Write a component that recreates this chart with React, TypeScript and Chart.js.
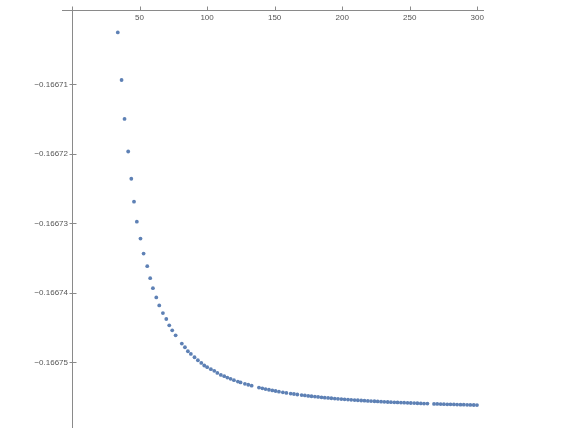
import React, { useEffect, useRef } from "react";
import { Chart, registerables } from "chart.js";
Chart.register(...registerables);

const xValues = [
  33.9, 36.7, 38.9, 41.6, 43.9, 45.9, 48.0, 50.7, 53.0, 55.7, 57.9, 59.9, 62.4, 64.6, 67.3, 69.8, 72.0, 74.2, 76.7,
  81.3, 83.6, 85.8, 88.0, 90.7, 93.2, 95.7, 97.9, 100.1, 102.8, 105.3, 107.6, 110.2, 112.7, 115.0, 117.4, 119.9,
  122.8, 124.8, 128.0, 130.5, 133.0, 138.4, 140.9, 143.3, 145.8, 148.3, 150.7, 153.2, 156.1, 158.7, 161.9, 164.3,
  166.8, 170.0, 172.4, 174.9, 177.3, 179.8, 182.2, 184.7, 187.1, 189.6, 192.0, 194.5, 196.9, 199.4, 201.8, 204.3,
  206.7, 209.2, 211.6, 214.1, 216.5, 219.0, 221.4, 223.9, 226.3, 228.8, 231.2, 233.7, 236.1, 238.6, 241.0, 243.5,
  245.9, 248.4, 250.8, 253.3, 255.7, 258.2, 260.6, 263.1, 268.0, 270.4, 272.9, 275.3, 277.8, 280.2, 282.7, 285.1,
  287.6, 290.0, 292.5, 294.9, 297.4, 299.8,
];

const yValues = [
  -0.16670254, -0.16670938, -0.16671498, -0.16671967, -0.16672359, -0.16672689, -0.16672976, -0.1667322,
  -0.16673435, -0.16673617, -0.16673789, -0.16673933, -0.16674066, -0.16674181, -0.16674291, -0.16674377,
  -0.16674468, -0.16674539, -0.16674611, -0.1667473, -0.16674783, -0.16674841, -0.16674879, -0.16674927,
  -0.1667497, -0.16675009, -0.16675046, -0.1667507, -0.16675099, -0.16675123, -0.16675152, -0.16675181,
  -0.16675199, -0.16675219, -0.16675238, -0.16675257, -0.16675277, -0.16675289, -0.16675309, -0.16675323,
  -0.16675336, -0.16675363, -0.16675374, -0.16675385, -0.16675395, -0.16675404, -0.16675413, -0.16675422,
  -0.16675431, -0.1667544, -0.16675449, -0.16675456, -0.16675463, -0.16675471, -0.16675477, -0.16675483,
  -0.16675488, -0.16675493, -0.16675498, -0.16675503, -0.16675508, -0.16675512, -0.16675517, -0.16675521,
  -0.16675525, -0.16675529, -0.16675532, -0.16675536, -0.16675539, -0.16675543, -0.16675546, -0.16675549,
  -0.16675552, -0.16675555, -0.16675558, -0.1667556, -0.16675563, -0.16675566, -0.16675568, -0.16675571,
  -0.16675573, -0.16675575, -0.16675577, -0.16675579, -0.16675581, -0.16675583, -0.16675585, -0.16675587,
  -0.16675589, -0.16675591, -0.16675593, -0.16675594, -0.16675598, -0.16675599, -0.16675601, -0.16675602,
  -0.16675604, -0.16675605, -0.16675606, -0.16675608, -0.16675609, -0.1667561, -0.16675611, -0.16675613,
  -0.16675614, -0.16675615,
];

const xTickLabels = [50, 100, 150, 200, 250, 300];
const yTickLabels = [-0.16671, -0.16672, -0.16673, -0.16674, -0.16675];

const X_MIN = 0;
const X_MAX = 305;
const Y_MIN = -0.16675945;
const Y_MAX = -0.16669938;

const AXIS_COLOR = "#8a8a8a";
const LABEL_COLOR = "#555555";
const POINT_COLOR = "#5e81b5";
const FONT = { family: "'Liberation Sans', Arial, sans-serif", size: 8 };

const isYMajor = (v: number) => yTickLabels.some((t) => Math.abs(t - v) < 1e-10);
const isYMajorAny = (v: number) => Math.round(v * 1e6) % 10 === 0;

const axesPlugin = {
  id: "mathematicaAxes",
  afterDraw(chart: any) {
    const { ctx, chartArea } = chart;
    const xs = chart.scales.x;
    const ys = chart.scales.y;
    const axisY = Math.floor(chartArea.top) + 0.5;
    const axisX = Math.round(chartArea.left) + 0.5;
    ctx.save();
    ctx.strokeStyle = AXIS_COLOR;
    ctx.lineWidth = 1;
    ctx.beginPath();
    ctx.moveTo(chartArea.left - 10, axisY);
    ctx.lineTo(chartArea.right, axisY);
    ctx.moveTo(axisX, chartArea.top - 4);
    ctx.lineTo(axisX, chartArea.bottom);
    ctx.stroke();
    ctx.beginPath();
    xs.ticks.forEach((t: any) => {
      if (t.value === 0) return;
      const px = Math.round(xs.getPixelForValue(t.value)) + 0.5;
      const len = t.value % 50 === 0 ? 4 : 2.5;
      ctx.moveTo(px, axisY);
      ctx.lineTo(px, axisY - len);
    });
    ys.ticks.forEach((t: any) => {
      const py = Math.round(ys.getPixelForValue(t.value)) + 0.5;
      if (py < chartArea.top + 2) return;
      if (isYMajorAny(t.value)) {
        ctx.moveTo(axisX - 3, py);
        ctx.lineTo(axisX + 4, py);
      } else {
        ctx.moveTo(axisX, py);
        ctx.lineTo(axisX + 2.5, py);
      }
    });
    ctx.stroke();
    ctx.restore();
  },
};

export default function App() {
  const canvasRef = useRef<HTMLCanvasElement | null>(null);

  useEffect(() => {
    const canvas = canvasRef.current;
    if (!canvas) return;
    const data = xValues.map((x, i) => ({ x, y: yValues[i] }));
    const chart = new Chart(canvas, {
      type: "scatter",
      data: {
        datasets: [
          {
            data,
            backgroundColor: POINT_COLOR,
            borderWidth: 0,
            pointRadius: 1.9,
            pointHoverRadius: 1.9,
          },
        ],
      },
      options: {
        animation: false,
        responsive: false,
        maintainAspectRatio: false,
        layout: { autoPadding: false, padding: { left: 0, right: 97, top: 0, bottom: 0 } },
        plugins: { legend: { display: false }, tooltip: { enabled: false } },
        scales: {
          x: {
            type: "linear",
            position: "top",
            min: X_MIN,
            max: X_MAX,
            grid: { display: false, drawTicks: false },
            border: { display: false },
            afterFit: (scale: any) => {
              scale.height = 10.5;
              scale.paddingLeft = 0;
              scale.paddingRight = 0;
              scale.paddingTop = 0;
              scale.paddingBottom = 0;
            },
            ticks: {
              stepSize: 10,
              includeBounds: false,
              autoSkip: false,
              maxRotation: 0,
              minRotation: 0,
              mirror: true,
              padding: 2,
              color: LABEL_COLOR,
              font: FONT,
              callback: (v: any) => (xTickLabels.includes(Number(v)) ? String(v) : null),
            },
          },
          y: {
            type: "linear",
            position: "left",
            min: Y_MIN,
            max: Y_MAX,
            grid: { display: false, drawTicks: false },
            border: { display: false },
            afterFit: (scale: any) => {
              scale.width = 72;
              scale.paddingLeft = 0;
              scale.paddingRight = 0;
              scale.paddingTop = 0;
              scale.paddingBottom = 0;
            },
            ticks: {
              stepSize: 0.000002,
              includeBounds: false,
              autoSkip: false,
              padding: 4,
              color: LABEL_COLOR,
              font: FONT,
              callback: (v: any) => {
                const n = Number(v);
                return isYMajor(n) ? "\u2212" + Math.abs(n).toFixed(5) : null;
              },
            },
          },
        },
      },
      plugins: [axesPlugin],
    });
    return () => chart.destroy();
  }, []);

  return (
    <div style={{ position: "absolute", left: 0, top: 0, width: 581, height: 428, background: "#fff" }}>
      <canvas ref={canvasRef} width={581} height={428} style={{ display: "block" }} />
    </div>
  );
}
